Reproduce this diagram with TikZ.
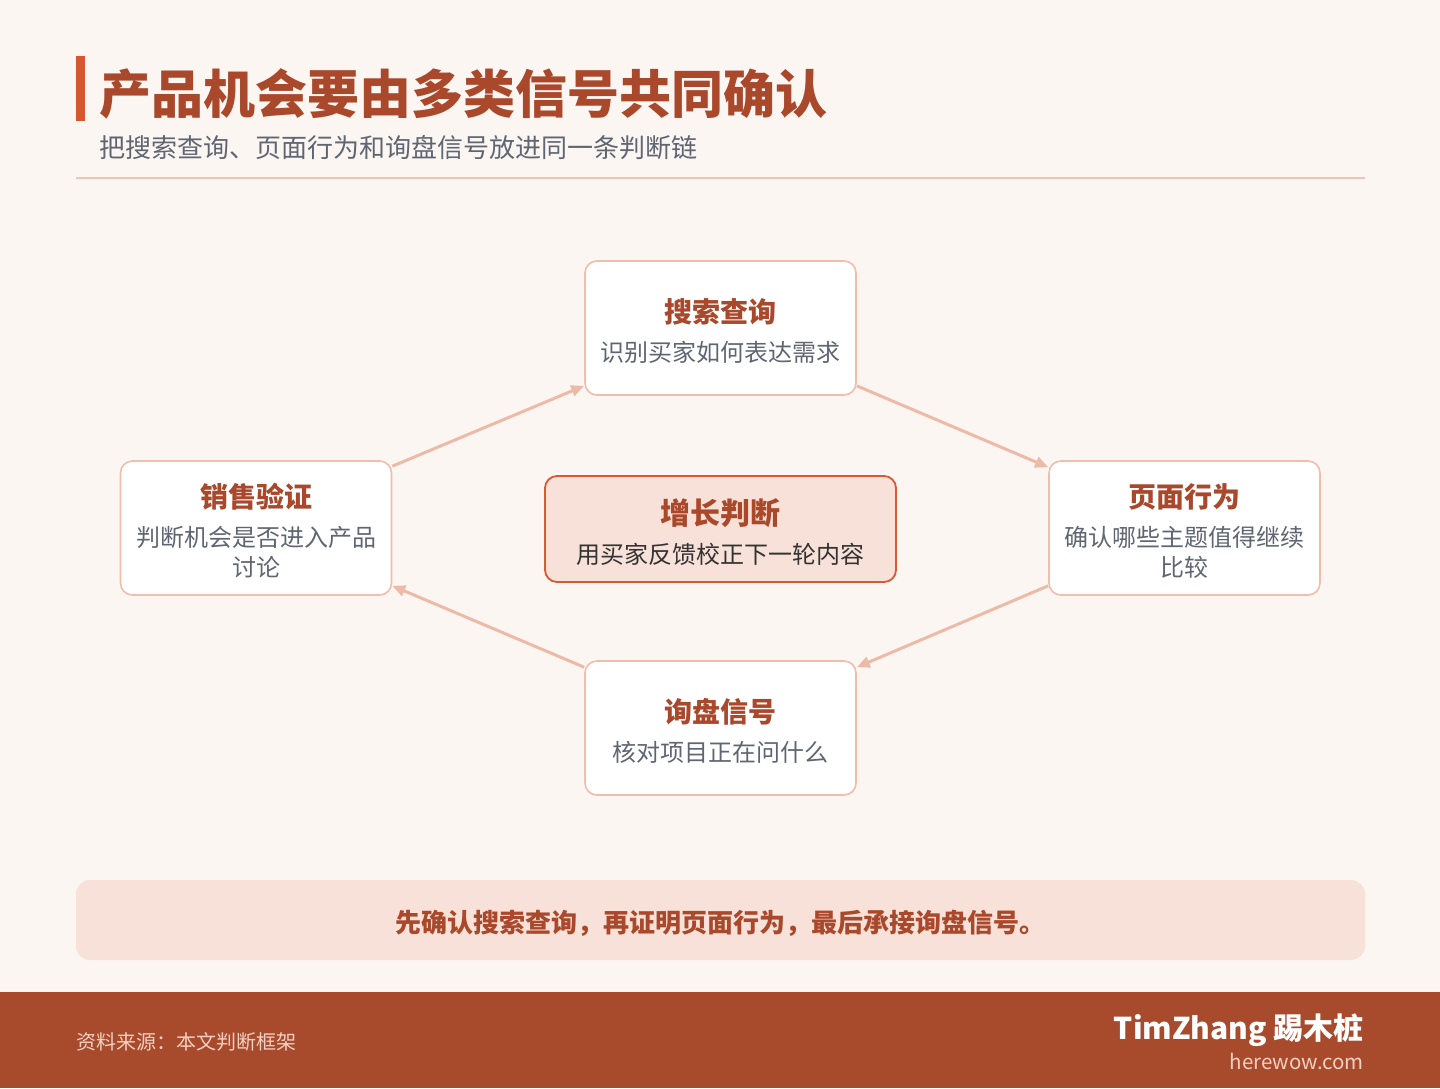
\documentclass[tikz,border=0pt]{standalone}
\usepackage{fontspec}
\setmainfont{Noto Sans CJK SC}
\usetikzlibrary{arrows.meta}
\definecolor{bgc}{HTML}{FCF6F3}
\definecolor{titlecol}{HTML}{A9482B}
\definecolor{accent}{HTML}{D5562F}
\definecolor{graytxt}{HTML}{5F6672}
\definecolor{darktxt}{HTML}{333333}
\definecolor{rulecol}{HTML}{F0C3B3}
\definecolor{boxline}{HTML}{F0BEAC}
\definecolor{centerfill}{HTML}{F8E1D8}
\definecolor{centerline}{HTML}{D85A30}
\definecolor{footerc}{HTML}{A84A2C}
\definecolor{footertxt}{HTML}{F4D0C2}
\definecolor{arrowc}{HTML}{EDBAA7}
\tikzset{
  stagebox/.style={draw=boxline, line width=1.6pt, fill=white, rounded corners=12pt,
    minimum width=271pt, minimum height=134pt, inner sep=0pt},
  hubbox/.style={draw=centerline, line width=1.8pt, fill=centerfill, rounded corners=12pt,
    minimum width=351pt, minimum height=106pt, inner sep=0pt},
  ttl/.style={font=\bfseries\fontsize{28}{28}\selectfont, text=titlecol, inner sep=0pt},
  subt/.style={font=\fontsize{24}{30}\selectfont, text=graytxt, inner sep=0pt, align=center},
  flow/.style={draw=arrowc, line width=3pt, -{Triangle[length=13pt,width=11pt]}},
}
\begin{document}
\begin{tikzpicture}[x=1pt,y=-1pt]
\fill[bgc] (0,0) rectangle (1440,1088);
\useasboundingbox (0,0) rectangle (1440,1088);
% header
\fill[accent] (76,56) rectangle (85,121);
\node[anchor=west, font=\bfseries\fontsize{52}{52}\selectfont, text=titlecol, inner sep=0pt] (title) at (99,94) {产品机会要由多类信号共同确认};
\node[anchor=west, font=\fontsize{26}{26}\selectfont, text=graytxt, inner sep=0pt] (subtitle) at (99,148) {把搜索查询、页面行为和询盘信号放进同一条判断链};
\draw[rulecol, line width=2pt] (76,178) -- (1365,178);
% boxes
\node[stagebox] (n1) at (720.5,328) {};
\node[stagebox] (n2) at (1184.5,528) {};
\node[stagebox] (n3) at (720.5,728) {};
\node[stagebox] (n4) at (256,528) {};
\node[hubbox] (hub) at (720.5,529) {};
% texts
\node[ttl] (n1t) at (720,312) {搜索查询};
\node[subt] (n1s) at (720,352) {识别买家如何表达需求};
\node[ttl] (n2t) at (1184,497) {页面行为};
\node[subt] (n2s) at (1184,552) {确认哪些主题值得继续\\比较};
\node[ttl] (n3t) at (720,712) {询盘信号};
\node[subt] (n3s) at (720,752) {核对项目正在问什么};
\node[ttl] (n4t) at (256,497) {销售验证};
\node[subt] (n4s) at (256,552) {判断机会是否进入产品\\讨论};
\node[ttl, font=\bfseries\fontsize{30}{30}\selectfont] (hubt) at (720,513) {增长判断};
\node[subt, text=darktxt] (hubs) at (720,554) {用买家反馈校正下一轮内容};
% arrows
\draw[flow] ([yshift=-6pt]n4.north east) -- ([yshift=10pt]n1.south west);
\draw[flow] ([yshift=10pt]n1.south east) -- ([yshift=-7pt]n2.north west);
\draw[flow] ([yshift=10pt]n2.south west) -- ([yshift=-7pt]n3.north east);
\draw[flow] ([yshift=-7pt]n3.north west) -- ([yshift=10pt]n4.south east);
% callout
\node[fill=centerfill, rounded corners=14pt, minimum width=1289pt, minimum height=80pt, inner sep=0pt] (callout) at (720.5,920) {};
\node[font=\bfseries\fontsize{26}{26}\selectfont, text=titlecol, inner sep=0pt] (callt) at (720,923) {先确认搜索查询，再证明页面行为，最后承接询盘信号。};
% footer
\fill[footerc] (0,992) rectangle (1440,1088);
\node[anchor=west, font=\fontsize{20}{20}\selectfont, text=footertxt, inner sep=0pt] (src) at (76,1042) {资料来源：本文判断框架};
\node[anchor=east, font=\bfseries\fontsize{30}{30}\selectfont, text=white, inner sep=0pt] (brand) at (1364,1030) {TimZhang 踢木桩};
\node[anchor=east, font=\fontsize{20.5}{20.5}\selectfont, text=footertxt, inner sep=0pt] (site) at (1364,1061) {herewow.com};
\end{tikzpicture}
\end{document}
